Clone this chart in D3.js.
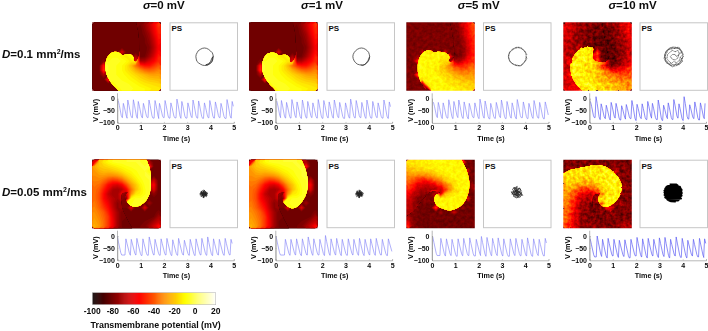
<!DOCTYPE html>
<html><head><meta charset="utf-8">
<script src="https://cdn.jsdelivr.net/npm/d3@7"></script>
<style>
html,body{margin:0;padding:0;background:#fff;overflow:hidden}
svg{display:block;filter:blur(0.3px)}
text{font-family:"Liberation Sans",Arial,sans-serif;font-weight:bold;fill:#0c0c0c}
</style></head><body><svg id="c" width="708" height="331"></svg>
<script>
const sigmaLabels=["0","1","5","10"];
const diffLabels=["0.1","0.05"];
const cbTicks=[-100,-80,-60,-40,-20,0,20];
const timeTicks=[0,1,2,3,4,5];
const voltTicks=[0,-50,-100];

const mapD01S0=[
[-82,-82,-82,-82,-82,-82,-82,-82,-82,-82,-80,-74,-66,-56,-46],
[-82,-82,-82,-82,-82,-82,-82,-82,-82,-82,-82,-76,-68,-58,-48],
[-82,-82,-82,-82,-82,-82,-82,-82,-82,-82,-82,-78,-72,-60,-50],
[-82,-82,-82,-82,-82,-82,-82,-82,-82,-82,-82,-80,-74,-64,-52],
[-82,-82,-82,-82,-82,-82,-82,-82,-82,-82,-82,-80,-76,-66,-54],
[-82,-82,-82,-82,-82,-82,-82,-82,-82,-82,-82,-82,-78,-68,-56],
[-82,-82,-82,-82,-12,-10,-60,-82,-82,-82,-82,-82,-76,-66,-54],
[-82,-82,-82,-12,-8,-8,-12,-14,-10,-70,-82,-80,-72,-62,-50],
[-82,-82,-78,-8,-6,-6,-8,-10,-14,-58,-70,-70,-62,-56,-48],
[-82,-82,-50,-5,-6,-8,-10,-14,-22,-35,-46,-52,-52,-46,-40],
[-82,-82,-46,-5,-6,-8,-10,-14,-18,-24,-30,-36,-38,-36,-32],
[-82,-82,-70,-6,-6,-8,-9,-11,-14,-17,-20,-23,-26,-27,-26],
[-82,-82,-82,-50,-6,-6,-8,-9,-11,-13,-16,-18,-20,-21,-22],
[-82,-82,-82,-82,-10,-5,-6,-7,-8,-10,-12,-14,-15,-16,-17],
[-82,-82,-82,-82,-82,-10,-6,-6,-7,-8,-9,-10,-12,-13,-14]];
const mapD01S1=mapD01S0;
const mapD01S5=[
[-80,-80,-80,-80,-80,-80,-80,-80,-80,-80,-78,-72,-62,-52,-42],
[-80,-80,-80,-80,-80,-80,-80,-80,-80,-80,-80,-74,-66,-54,-44],
[-80,-80,-80,-80,-80,-80,-80,-80,-80,-80,-80,-76,-68,-56,-46],
[-80,-80,-80,-80,-80,-80,-80,-80,-80,-80,-80,-78,-70,-58,-48],
[-80,-80,-80,-80,-80,-80,-80,-80,-80,-80,-80,-80,-72,-62,-50],
[-80,-80,-80,-80,-80,-80,-80,-80,-80,-80,-80,-80,-74,-64,-52],
[-80,-80,-80,-64,-14,-14,-16,-14,-60,-80,-80,-80,-74,-64,-52],
[-80,-80,-72,-12,-11,-11,-12,-12,-14,-46,-82,-80,-72,-60,-50],
[-80,-80,-46,-11,-11,-11,-11,-13,-16,-30,-66,-70,-62,-54,-46],
[-80,-80,-14,-10,-11,-11,-13,-16,-22,-32,-44,-50,-50,-44,-38],
[-80,-80,-12,-11,-11,-11,-13,-16,-20,-26,-32,-36,-38,-36,-32],
[-80,-80,-36,-11,-11,-11,-12,-14,-17,-20,-22,-25,-28,-28,-26],
[-80,-80,-76,-15,-11,-11,-11,-12,-14,-16,-18,-20,-22,-23,-24],
[-80,-80,-80,-76,-14,-11,-11,-11,-12,-13,-14,-16,-17,-18,-19],
[-80,-80,-80,-80,-76,-12,-11,-11,-11,-12,-12,-13,-14,-15,-16]];
const mapD01S10=[
[-58,-62,-68,-72,-74,-76,-78,-80,-80,-80,-76,-72,-66,-60,-54],
[-60,-64,-70,-74,-76,-78,-80,-82,-82,-82,-80,-74,-68,-62,-56],
[-62,-66,-72,-76,-78,-80,-82,-82,-82,-82,-80,-76,-70,-66,-58],
[-64,-68,-72,-76,-78,-80,-82,-84,-84,-84,-82,-78,-74,-68,-60],
[-66,-70,-74,-76,-78,-80,-82,-84,-84,-84,-82,-80,-74,-70,-62],
[-66,-70,-74,-60,-16,-14,-16,-80,-84,-84,-84,-80,-76,-72,-64],
[-66,-70,-70,-13,-12,-12,-12,-40,-84,-86,-84,-82,-76,-72,-64],
[-66,-70,-25,-12,-12,-12,-13,-55,-84,-86,-86,-82,-76,-70,-62],
[-66,-45,-12,-12,-12,-13,-16,-40,-70,-84,-86,-84,-76,-68,-60],
[-66,-20,-12,-12,-13,-15,-18,-26,-48,-68,-78,-76,-70,-62,-54],
[-66,-18,-12,-12,-13,-15,-18,-22,-30,-42,-52,-56,-56,-50,-46],
[-62,-50,-12,-12,-13,-15,-16,-20,-24,-28,-34,-40,-42,-40,-38],
[-62,-60,-14,-12,-12,-13,-15,-18,-22,-26,-28,-30,-32,-34,-34],
[-62,-60,-60,-13,-12,-12,-13,-16,-18,-20,-22,-24,-26,-28,-30],
[-60,-60,-60,-50,-13,-12,-12,-14,-16,-18,-20,-22,-24,-26,-30]];
const mapD005S0=[
[-60,-20,-14,-10,-7,-6,-6,-5,-5,-5,-5,-7,-70,-82,-82],
[-25,-20,-18,-16,-14,-12,-10,-8,-7,-6,-5,-5,-50,-82,-82],
[-28,-24,-22,-22,-20,-18,-15,-12,-10,-8,-6,-5,-10,-82,-82],
[-30,-28,-28,-30,-30,-28,-24,-18,-14,-10,-7,-5,-5,-80,-82],
[-32,-32,-36,-42,-46,-44,-38,-28,-20,-14,-9,-6,-5,-65,-82],
[-34,-36,-44,-54,-60,-62,-56,-42,-28,-20,-12,-7,-5,-55,-82],
[-36,-40,-50,-60,-70,-72,-68,-56,-36,-22,-14,-8,-5,-60,-82],
[-36,-42,-54,-66,-72,-72,-74,-62,-30,-14,-12,-8,-5,-75,-82],
[-36,-42,-54,-62,-68,-72,-76,-78,-10,-7,-7,-6,-8,-82,-82],
[-34,-40,-50,-58,-68,-76,-80,-80,-8,-6,-6,-6,-72,-82,-82],
[-32,-38,-46,-54,-66,-76,-80,-80,-60,-8,-6,-60,-82,-82,-82],
[-30,-34,-40,-50,-62,-72,-80,-82,-82,-82,-82,-82,-82,-82,-78],
[-28,-32,-38,-46,-60,-72,-80,-82,-82,-82,-82,-82,-82,-80,-72],
[-26,-30,-36,-46,-58,-72,-80,-82,-82,-82,-82,-80,-78,-72,-66],
[-24,-28,-36,-46,-58,-72,-80,-82,-82,-82,-80,-78,-72,-64,-54]];
const mapD005S1=mapD005S0;
const mapD005S5=[
[-14,-14,-13,-13,-12,-12,-11,-11,-11,-11,-11,-11,-50,-82,-82],
[-18,-16,-15,-14,-13,-13,-12,-11,-11,-11,-11,-11,-11,-82,-82],
[-24,-22,-20,-20,-18,-16,-14,-13,-12,-11,-11,-11,-11,-60,-82],
[-30,-30,-32,-32,-30,-26,-22,-18,-14,-12,-11,-11,-11,-11,-82],
[-34,-40,-50,-52,-50,-44,-36,-30,-22,-16,-13,-11,-11,-11,-82],
[-40,-50,-58,-62,-64,-62,-56,-48,-36,-24,-16,-12,-11,-11,-70],
[-48,-58,-66,-70,-72,-72,-70,-62,-50,-30,-18,-13,-12,-11,-75],
[-56,-66,-72,-76,-78,-76,-68,-60,-24,-16,-13,-12,-11,-12,-82],
[-60,-70,-76,-78,-80,-78,-12,-11,-12,-12,-12,-12,-11,-60,-82],
[-65,-72,-78,-80,-80,-78,-11,-11,-11,-11,-12,-11,-11,-82,-82],
[-66,-74,-80,-82,-82,-80,-40,-11,-11,-11,-11,-11,-75,-82,-82],
[-70,-76,-80,-82,-82,-82,-82,-70,-13,-13,-60,-82,-82,-82,-82],
[-70,-78,-80,-82,-82,-82,-82,-82,-82,-82,-82,-82,-82,-82,-82],
[-62,-78,-80,-82,-82,-82,-82,-82,-82,-82,-82,-82,-82,-82,-80],
[-52,-76,-80,-82,-82,-82,-82,-82,-82,-82,-82,-82,-82,-82,-78]];
const mapD005S10=[
[-78,-78,-78,-78,-78,-78,-78,-78,-78,-78,-78,-78,-78,-78,-78],
[-78,-78,-78,-78,-78,-14,-14,-13,-13,-14,-78,-78,-78,-78,-78],
[-78,-15,-14,-13,-13,-13,-13,-13,-12,-12,-13,-55,-78,-78,-78],
[-15,-14,-14,-15,-15,-15,-13,-13,-13,-12,-12,-13,-68,-78,-78],
[-18,-17,-17,-19,-20,-20,-17,-14,-13,-12,-12,-12,-30,-78,-78],
[-20,-20,-22,-26,-30,-30,-25,-18,-14,-13,-12,-12,-13,-70,-78],
[-24,-26,-34,-42,-46,-46,-42,-32,-20,-15,-13,-12,-12,-72,-78],
[-28,-32,-42,-55,-60,-62,-62,-50,-30,-15,-13,-12,-12,-76,-78],
[-30,-36,-48,-60,-68,-72,-76,-70,-13,-12,-12,-12,-14,-78,-78],
[-32,-40,-54,-66,-72,-78,-78,-76,-40,-12,-12,-13,-70,-78,-78],
[-32,-42,-56,-68,-74,-78,-80,-80,-78,-50,-50,-78,-78,-78,-78],
[-34,-46,-58,-70,-76,-78,-80,-80,-80,-80,-80,-78,-78,-78,-78],
[-36,-48,-60,-70,-76,-78,-80,-80,-80,-80,-78,-78,-78,-78,-78],
[-40,-50,-60,-70,-76,-78,-78,-80,-80,-78,-78,-78,-78,-76,-74],
[-42,-50,-62,-70,-76,-76,-74,-78,-78,-78,-78,-76,-72,-70,-66]];

// Outline of the excited side of each wave front, x,y in % of the panel
const frontD01S0=[[38,112],[38,100],[29,90],[22.5,80],[19.5,70],[19.5,60],[22,51],[27,45],[33,43],[39,44.5],[44,48],[50,46.5],[56,47],[60,51],[60,55],[63,58],[68,50],[68,20],[66,-12],[112,-12],[112,112]];
const frontD01S1=[[39,112],[39,100],[30,90],[23,80],[19.5,70],[19.5,60],[22,52],[27,46],[33,44],[39,45],[44,48.5],[50,47.5],[55,48],[59,52],[59,56],[62,59],[68,50],[68,20],[66,-12],[112,-12],[112,112]];
const frontD01S5=[[30,112],[30,100],[23,90],[18,78],[16.5,66],[18.5,54],[23,46],[29,41.5],[36,41.5],[41,44],[47,43],[55,44],[61,47],[63,52],[61,57],[66,58],[70,50],[68,20],[66,-12],[112,-12],[112,112]];
const frontD01S10=[[28,112],[28,100],[20,92],[13,80],[10.5,66],[13,54],[19,44],[27,38.5],[35,36.5],[43,37],[43,46],[44,55],[52,58],[62,58],[66,54],[62,30],[60,-12],[112,-12],[112,112]];
const frontD005S0=[[-12,-12],[80,-12],[79.5,0],[83,10],[85,20],[85.5,34],[84,48],[79,59],[71,66],[62,68.5],[55,66],[50,60],[48.5,55],[50,50],[53,47],[43,49],[42,56],[43,70],[50,85],[60,112],[-12,112]];
const frontD005S1=[[-12,-12],[78,-12],[77,0],[81,10],[84,20],[86,34],[84,48],[79,59],[71,68],[64,71],[56,68],[50,61],[49,55],[50,50],[53,47],[43,49],[42,56],[43,70],[50,85],[60,112],[-12,112]];
const frontD005S5=[[-12,-12],[82,-12],[81,0],[88,15],[92,34],[90,50],[83,64],[74,71],[64,74],[52,71],[44,66],[41,58],[43,52],[50,48],[36,46],[22,60],[10,75],[-12,85]];
const frontD005S10=[[-12,22],[0,20],[10,15],[20,13],[35,10],[54,8],[65,12],[73,18],[81,27],[85,37],[84,48],[78,59],[70,66],[61,69],[54,65],[51,56],[54,49],[44,52],[42,65],[45,80],[45,112],[-12,112]];

// Phase-singularity tip paths, x,y pairs in % of the panel
const psD01S0=[64,50,63.5,53,62.5,57,60,60,57.5,61.5,54,63,51,63,48,62.5,45,61,42,59,40,57,39,53.5,38.5,50,39,47,40.5,44,42,41.5,45,39.5,48,38,51,37.5,54,38,57,39.5,60,42,62.5,44.5,63.5,47.5,64,50,62,52,60,57,57,60.5,53,62,56,62,60,59,62.5,55,63,50];
const psD01S1=[63,50,62.5,54,60.5,57.5,58,60,55,62,51,62.5,48,62,45,61,42.5,59,40.5,56.5,39,53,38.5,50,39,47,40.5,44,42.5,41.5,45,39.5,48,38,51,37.5,54,38,57,39.5,59.5,41.5,61.5,44,62.5,47,63,50,60.5,56,57,61,53,63,50,62];
const psD01S5=[63,50,62.5,54,60.5,57.5,58,60.5,55,63,51,63.5,48,63,45,61.5,42,60,39.5,57,38,53,37.5,50,38,47,39.5,43.5,42,41,45,39,48,37.5,51,37,54,37.5,57,39,60,41.5,62,44.5,63,47.5,63,50,64,53,61,58,58,61.5,54,64,50,62.5,46,62,41,59,38,55,37,50,38,45,40,42,44,38.5,49,36.5,53,36.5,57,38,61,42,64,47];
const psD01S10=[63,50,62,55,59,60,55,63,50,64,45,63,41,60,38,56,36.5,50,38,44,41,40,45,37,50,36,55,37,59,40,62,45,64,50,61,54,63,57,58,62,53,61,48,65,43,61,39,59,36,53,37,47,39,42,43,39,48,37,52,38,57,36,61,41,64,47,60,50,58,56,54,59,50,57,47,60,43,57,40,53,41,47,44,44,48,41,52,43,56,41,58,45,56,52,52,55,48,54,45,50,48,47,52,47,54,50,62,43,58,38,50,38,42,40,38,48,38,54,42,60,50,62,58,60,62,52];
const psD005S0=[55,50,50,55,46,46,54,52,48,45,45,52,53,47,49,55,55,48,46,54,51,45,54,54,45,48,52,50,48,53,50,46,55,52,47,49,44,50,50,50,56,50,50,44,50,56,47,47,53,53,53,47,47,53];
const psD005S1=[53,50,48,55,44,46,52,52,46,45,43,52,51,47,47,55,53,48,44,54,49,45,52,54,43,48,50,50,46,53,48,46,53,52,45,49,42,50,48,50,54,50,48,44,48,56,45,47,51,53,51,47,45,53];
const psD005S5=[57,47,53,52,47,44,52,53,43,49,48,41,55,43,49,56,44,53,52,46,58,52,46,50,50,39,43,43,51,56,55,49,48,47,41,47,47,54,53,41,56,46,49,50,45,40,52,47,48,44,57,50,54,55,47,51,42,50,51,43,49,47,51,49];
const psD005S10=[44,36,54,36,56,37.5,42,38,39,39.5,59,39,60,41,38,41,37,43,61,42.5,62,44.5,36,45,37,46.5,61,46,62,48,36,47.5,37,50,62,49.5,61,51,36,51.5,38,53,62,52.5,60,54,37,54.5,38,56,60,55.5,61,57,40,57.5,41,59,58,58.5,56,60,43,60,46,61,52,61.5,49,36,50,61,47,35.5];

// Each trace: beat time (s), peak and trough voltage (mV)
const tD01S0=[0.04,0.26,0.45,0.69,0.9,1.12,1.36,1.62,1.81,2.05,2.3,2.56,2.77,3.03,3.25,3.49,3.74,3.97,4.21,4.45,4.71,4.93];
const pD01S0=[-8,-20,-6,-5,-12,-20,-6,-8,-20,-8,-18,-2,-12,-18,-6,-10,-18,-8,-14,-20,-4,-12];
const bD01S0=[-80,-82,-80,-83,-81,-80,-82,-83,-80,-82,-81,-83,-82,-80,-82,-83,-81,-82,-80,-83,-82,-80];
const tD01S1=[0.05,0.25,0.47,0.7,0.92,1.15,1.38,1.6,1.83,2.07,2.3,2.52,2.75,3.0,3.22,3.46,3.7,3.92,4.17,4.4,4.65,4.88];
const pD01S1=[-10,-8,-16,-4,-14,-6,-12,-18,-4,-8,-14,-6,-16,-18,-2,-8,-16,-6,-12,-18,-6,-14];
const bD01S1=[-80,-82,-82,-80,-83,-82,-80,-82,-83,-81,-82,-80,-83,-82,-81,-80,-83,-82,-80,-82,-83,-80];
const tD01S5=[0.06,0.27,0.48,0.72,0.94,1.15,1.38,1.6,1.84,2.06,2.28,2.52,2.76,2.98,3.22,3.44,3.66,3.92,4.16,4.38,4.62,4.86];
const pD01S5=[-15,-16,-18,-5,-12,-6,-14,-20,-18,-2,-10,-20,-16,-6,-12,-18,-4,-14,-20,-8,-16,-14];
const bD01S5=[-80,-84,-82,-84,-80,-83,-85,-80,-84,-82,-85,-83,-80,-84,-82,-85,-80,-84,-83,-82,-85,-76];
const tD01S10=[0.04,0.28,0.5,0.72,0.93,1.14,1.38,1.58,1.82,2.04,2.26,2.5,2.7,2.95,3.18,3.38,3.62,3.84,4.06,4.3,4.52,4.76,4.96];
const pD01S10=[-12,8,-22,-28,-16,-20,-30,-25,-8,-24,-22,-12,-20,-6,-28,-18,-4,-22,8,-26,-14,-18,-20];
const bD01S10=[-80,-88,-84,-90,-82,-90,-86,-84,-92,-84,-88,-82,-88,-92,-84,-88,-82,-92,-86,-84,-90,-84,-72];
const tD005S0=[0.0,0.37,0.6,0.84,1.1,1.37,1.62,1.88,2.13,2.38,2.63,2.88,3.13,3.38,3.63,3.88,4.13,4.38,4.63,4.88];
const pD005S0=[-2,-12,-14,-10,-12,-4,-14,-12,-10,-16,-10,-18,-14,-12,-10,-4,-12,-14,-10,-14];
const bD005S0=[-80,-81,-80,-82,-81,-80,-81,-80,-82,-81,-80,-81,-82,-80,-81,-82,-80,-81,-80,-72];
const tD005S1=[0.02,0.42,0.66,0.9,1.15,1.4,1.64,1.9,2.14,2.38,2.62,2.86,3.12,3.36,3.6,3.84,4.08,4.32,4.58,4.84];
const pD005S1=[-2,-14,-14,-12,-12,-4,-12,-14,2,-12,-10,-14,-12,-14,-10,-14,-12,-10,-14,-12];
const bD005S1=[-80,-81,-80,-82,-80,-81,-80,-82,-81,-80,-82,-81,-80,-81,-82,-80,-81,-80,-82,-72];
const tD005S5=[0.03,0.38,0.62,0.86,1.12,1.36,1.62,1.9,2.12,2.36,2.6,2.84,3.08,3.36,3.6,3.86,4.1,4.36,4.6,4.86];
const pD005S5=[-2,-10,-12,-14,-12,-10,-8,-14,-2,-6,-10,-8,-12,-12,-10,-14,-8,-12,-14,-10];
const bD005S5=[-82,-84,-82,-85,-83,-82,-84,-82,-85,-83,-82,-84,-85,-82,-83,-84,-85,-82,-84,-74];
const tD005S10=[0.03,0.33,0.56,0.8,1.05,1.28,1.52,1.78,2.04,2.28,2.52,2.76,3.0,3.24,3.48,3.72,3.98,4.22,4.46,4.72,4.94];
const pD005S10=[-12,0,-14,-10,-14,-18,-16,-14,-6,-12,-10,-14,-8,-6,-14,-4,-10,-18,-14,-10,-12];
const bD005S10=[-88,-86,-92,-84,-90,-86,-92,-84,-88,-92,-84,-90,-86,-92,-84,-90,-92,-84,-88,-90,-76];

const maps=[[mapD01S0,mapD01S1,mapD01S5,mapD01S10],[mapD005S0,mapD005S1,mapD005S5,mapD005S10]];
const fronts=[[frontD01S0,frontD01S1,frontD01S5,frontD01S10],[frontD005S0,frontD005S1,frontD005S5,frontD005S10]];
const tips=[[psD01S0,psD01S1,psD01S5,psD01S10],[psD005S0,psD005S1,psD005S5,psD005S10]];
const beatT=[[tD01S0,tD01S1,tD01S5,tD01S10],[tD005S0,tD005S1,tD005S5,tD005S10]];
const beatP=[[pD01S0,pD01S1,pD01S5,pD01S10],[pD005S0,pD005S1,pD005S5,pD005S10]];
const beatB=[[bD01S0,bD01S1,bD01S5,bD01S10],[bD005S0,bD005S1,bD005S5,bD005S10]];

// layout
const mapX=[92.3,249,406.3,563.3], psX=[169.5,326.5,483,639.5], traceX=[117.3,275.6,432,589.5];
const titleX=[163.8,322,478.7,632.5], rowY=[22.3,159.7], S=68.5, TW=116.5;
const svg=d3.select("#c");
const hot=d3.scaleLinear().domain([-100,-55,-10,20]).range(["#0a0000","#ff0000","#ffff00","#ffffff"]).clamp(true);
const grey=d3.scaleLinear().domain([-100,20]).range(["#000","#fff"]);
const levels=d3.range(-100,20,2.5);

const defs=svg.append("defs");
// Measurement noise: voltage is painted as grey, grain added, then mapped through the colour scale
const tableSteps=d3.range(-100,20.01,5).map(v=>d3.rgb(hot(v)));
[["n5",0.11,0.5,11],["n10",0.27,1.0,23]].forEach(([id,amp,shift,seed])=>{
  const f=defs.append("filter").attr("id",id).attr("x",0).attr("y",0).attr("width","100%").attr("height","100%")
    .attr("color-interpolation-filters","sRGB");
  f.append("feTurbulence").attr("type","fractalNoise").attr("baseFrequency",0.3).attr("numOctaves",2).attr("seed",seed).attr("result","n");
  f.append("feDisplacementMap").attr("in","SourceGraphic").attr("in2","n").attr("scale",shift*2)
    .attr("xChannelSelector","R").attr("yChannelSelector","G").attr("result","d");
  f.append("feColorMatrix").attr("in","n").attr("type","matrix")
    .attr("values","1 0 0 0 0 1 0 0 0 0 1 0 0 0 0 0 0 0 0 1").attr("result","g");
  f.append("feComposite").attr("in","d").attr("in2","g").attr("operator","arithmetic")
    .attr("k1",0).attr("k2",1).attr("k3",amp).attr("k4",-amp/2).attr("result","v");
  const tr=f.append("feComponentTransfer").attr("in","v");
  [["feFuncR","r"],["feFuncG","g"],["feFuncB","b"]].forEach(([fn,ch])=>
    tr.append(fn).attr("type","table").attr("tableValues",tableSteps.map(c=>(c[ch]/255).toFixed(3)).join(" ")));
});

// Two layers either side of the front: cells beyond the outline borrow from the side being drawn.
function neighbours(g,i,j){
  const out=[];
  for(let a=-1;a<=1;a++)for(let b=-1;b<=1;b++){
    if((a||b)&&g[i+a]&&g[i+a][j+b]!==undefined)out.push([i+a,j+b,g[i+a][j+b]]);
  }
  return out;
}
function layers(g,poly){
  const n=g.length, inside=(i,j)=>d3.polygonContains(poly,[(j+.5)/n*100,(i+.5)/n*100]);
  const excited=g.map((row,i)=>row.map((v,j)=>{
    if(inside(i,j))return v;
    const vals=neighbours(g,i,j).filter(d=>inside(d[0],d[1])).map(d=>d[2]);
    return vals.length?Math.max(v,d3.max(vals)):v;
  }));
  const rest=g.map((row,i)=>row.map((v,j)=>{
    const nb=neighbours(g,i,j);
    if(inside(i,j)){
      const vals=nb.filter(d=>!inside(d[0],d[1])).map(d=>d[2]);
      return vals.length?d3.min(vals):v;
    }
    const m=d3.min(nb.map(d=>d[2]));
    return v>m+45?m:v;
  }));
  return {excited,rest};
}
function heatmap(r,c){
  const g=maps[r][c], n=g.length, x=mapX[c], y=rowY[r], noisy=c>=2, col=noisy?grey:hot;
  const sx=d3.scaleLinear().domain([0,n]).range([x,x+S]), sy=d3.scaleLinear().domain([0,n]).range([y,y+S]);
  const px=d3.scaleLinear().domain([0,100]).range([x,x+S]), py=d3.scaleLinear().domain([0,100]).range([y,y+S]);
  const path=d3.geoPath(d3.geoTransform({point(a,b){this.stream.point(sx(a),sy(b));}}));
  const clip="m"+r+c, fr="f"+r+c;
  defs.append("clipPath").attr("id",clip).append("rect").attr("x",x).attr("y",y).attr("width",S).attr("height",S);
  defs.append("clipPath").attr("id",fr).append("path")
    .attr("d",d3.line().x(d=>px(d[0])).y(d=>py(d[1])).curve(d3.curveCatmullRomClosed)(fronts[r][c]));
  const outer=svg.append("g").attr("clip-path",`url(#${clip})`);
  const gg=outer.append("g");
  if(noisy) gg.attr("filter",`url(#${c==2?"n5":"n10"})`);
  const L=layers(g,fronts[r][c]);
  const draw=(host,field)=>{
    host.append("rect").attr("x",x-10).attr("y",y-10).attr("width",S+20).attr("height",S+20).attr("fill",col(d3.min(field.flat())));
    host.selectAll("path").data(d3.contours().size([n,n]).thresholds(levels)(field.flat())).join("path").attr("d",path).attr("fill",d=>col(d.value+1.25));
  };
  draw(gg.append("g"),L.rest);
  draw(gg.append("g").attr("clip-path",`url(#${fr})`),L.excited);
}
function phase(r,c){
  const x=psX[c],y=rowY[r];
  svg.append("rect").attr("x",x+.5).attr("y",y+.5).attr("width",S-1).attr("height",S-1).attr("fill","#fff").attr("stroke","#c6c6c6").attr("stroke-width",1);
  svg.append("text").attr("x",x+2).attr("y",y+8.8).attr("font-size",8).text("PS");
  const sx=d3.scaleLinear().domain([0,100]).range([x,x+S]), sy=d3.scaleLinear().domain([0,100]).range([y,y+S]);
  const pts=d3.pairs(tips[r][c]).filter((_,i)=>i%2==0);
  const dense=r==1&&c==3;
  const p=svg.append("path").datum(pts).attr("fill","none").attr("stroke",dense?"#000":"#222")
    .attr("stroke-width",dense?1.5:(r==1?0.7:0.7)).attr("stroke-linejoin","round")
    .attr("d",d3.line().x(d=>sx(d[0])).y(d=>sy(d[1])));
  if(r==0&&c>=2) p.attr("stroke-dasharray","1.1 0.5");
}
function trace(r,c){
  const x0=traceX[c], yT=rowY[r];
  const sx=d3.scaleLinear().domain([0,5]).range([x0,x0+TW]);
  const sy=d3.scaleLinear().domain([-100,0]).range([yT+100.1,yT+76.3]);
  const t=beatT[r][c],p=beatP[r][c],b=beatB[r][c],samples=[];
  t.forEach((ti,i)=>{
    const tail=r==0?0.13:0.15;
    if(i>0) samples.push([ti-0.04,b[i-1]]);
    samples.push([ti,p[i]]);
    samples.push([ti+0.05,p[i]*0.7+b[i]*0.3]);
    samples.push([ti+tail,b[i]*0.88+p[i]*0.12]);
    samples.push([ti+tail+0.04,b[i]]);
  });
  const data=samples.filter(d=>d[0]<=5);
  svg.append("path").datum(data).attr("fill","none").attr("stroke",c==3?"#5c5cf4":"#8585f8").attr("stroke-width",c==3?0.7:0.65)
    .attr("stroke-linejoin","round").attr("d",d3.line().x(d=>sx(d[0])).y(d=>sy(d[1])));
  const xa=svg.append("g").attr("transform",`translate(0,${yT+100.6})`).call(d3.axisBottom(sx).tickValues(timeTicks).tickSize(-1).tickPadding(2.5).tickFormat(d3.format("d")));
  const ya=svg.append("g").attr("transform",`translate(${x0},0)`).call(d3.axisLeft(sy).tickValues(voltTicks).tickSize(-1).tickPadding(2.5).tickFormat(d3.format("d")));
  svg.append("line").attr("x1",x0+.2).attr("x2",x0+.2).attr("y1",yT+71).attr("y2",yT+100.6).attr("stroke","#999").attr("stroke-width",.7);
  [xa,ya].forEach(a=>{a.selectAll("path").attr("stroke","#999").attr("stroke-width",.7);a.selectAll("line").attr("stroke","#999").attr("stroke-width",.5);
    a.selectAll("text").attr("font-size",7).attr("font-family",'"Liberation Sans"').attr("font-weight","bold").attr("fill","#0c0c0c");});
  svg.append("text").attr("x",x0+TW/2+.8).attr("y",yT+118.6).attr("text-anchor","middle").attr("font-size",7.2).text("Time (s)");
  svg.append("text").attr("transform",`translate(${x0-19.2},${yT+88}) rotate(-90)`).attr("text-anchor","middle").attr("font-size",7.2).text("V (mV)");
}
sigmaLabels.forEach((s,c)=>{
  const t=svg.append("text").attr("x",titleX[c]).attr("y",9).attr("text-anchor","middle").attr("font-size",11.5);
  t.append("tspan").attr("font-style","italic").text("σ");
  t.append("tspan").text("="+s+" mV");
  diffLabels.forEach((_,r)=>{heatmap(r,c);phase(r,c);trace(r,c);});
});
diffLabels.forEach((d,r)=>{
  const t=svg.append("text").attr("x",2).attr("y",rowY[r]+36).attr("font-size",11.5);
  t.append("tspan").attr("font-style","italic").text("D");
  t.append("tspan").text("="+d+" mm");
  t.append("tspan").attr("font-size",7).attr("dy",-4).text("2");
  t.append("tspan").attr("dy",4).text("/ms");
});
// colour bar
const cx=d3.scaleLinear().domain([-100,20]).range([92.3,215.7]);
svg.append("g").selectAll("rect").data(d3.range(-100,20,1)).join("rect")
  .attr("x",d=>cx(d)).attr("y",292.7).attr("width",d=>cx(d+1)-cx(d)+.4).attr("height",12).attr("fill",d=>hot(d+.5));
svg.append("rect").attr("x",92.3).attr("y",292.7).attr("width",123.4).attr("height",12).attr("fill","none").attr("stroke","#bbb").attr("stroke-width",.6);
svg.append("g").selectAll("text").data(cbTicks).join("text").attr("x",d=>cx(d)).attr("y",314).attr("text-anchor","middle").attr("font-size",8.5).text(d=>d);
svg.append("text").attr("x",155.7).attr("y",328).attr("text-anchor","middle").attr("font-size",8.9).text("Transmembrane potential (mV)");
</script></body></html>
